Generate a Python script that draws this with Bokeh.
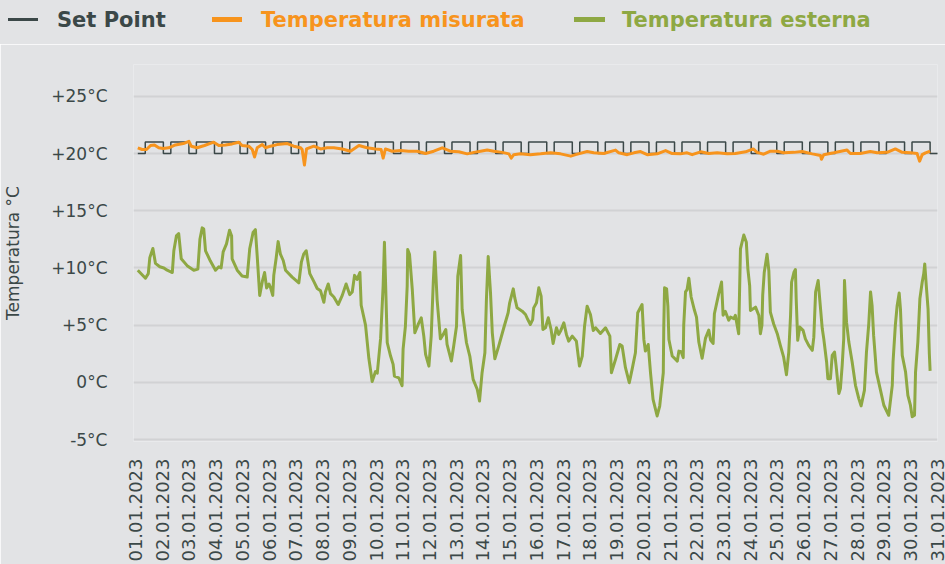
import math
from bokeh.plotting import figure
from bokeh.layouts import column
from bokeh.models import FixedTicker, Div
from bokeh.embed import file_html
from bokeh.resources import INLINE

# ---------------- data ----------------
x_tick_labels = ["01.01.2023", "02.01.2023", "03.01.2023", "04.01.2023", "05.01.2023",
                 "06.01.2023", "07.01.2023", "08.01.2023", "09.01.2023", "10.01.2023",
                 "11.01.2023", "12.01.2023", "13.01.2023", "14.01.2023", "15.01.2023",
                 "16.01.2023", "17.01.2023", "18.01.2023", "19.01.2023", "20.01.2023",
                 "21.01.2023", "22.01.2023", "23.01.2023", "24.01.2023", "25.01.2023",
                 "26.01.2023", "27.01.2023", "28.01.2023", "29.01.2023", "30.01.2023",
                 "31.01.2023"]
y_ticks = [-5, 0, 5, 10, 15, 20, 25]
y_tick_labels = ["-5°C", "0°C", "+5°C", "+10°C", "+15°C", "+20°C", "+25°C"]
series_names = ["Set Point", "Temperatura misurata", "Temperatura esterna"]

# set point schedule (°C) : night value 00-07h, day value 07-24h, for 31 days
setpoint_days = 31
setpoint_night = 20
setpoint_day = 21
setpoint_on_hour = 7
setpoint_end_day = 31.35

# measured indoor temperature (day since 01.01 00:00, °C)
measured = [
    (0.00, 20.5), (0.17, 20.35), (0.34, 20.35), (0.50, 20.7), (0.65, 20.75), (0.82, 20.5),
    (0.99, 20.43), (1.21, 20.5), (1.47, 20.75), (1.78, 20.87), (2.00, 21.07), (2.09, 20.64),
    (2.32, 20.5), (2.61, 20.7), (2.97, 20.99), (3.17, 20.7), (3.43, 20.75), (3.69, 20.84),
    (3.95, 20.99), (4.08, 20.7), (4.34, 20.64), (4.48, 20.35), (4.57, 19.7), (4.67, 20.5),
    (4.87, 20.78), (5.00, 20.5), (5.19, 20.64), (5.45, 20.78), (5.85, 20.87), (6.10, 20.64),
    (6.37, 20.5), (6.43, 20.35), (6.52, 19.0), (6.60, 20.4), (6.89, 20.64), (7.15, 20.4),
    (7.41, 20.5), (7.67, 20.5), (8.00, 20.4), (8.32, 20.2), (8.65, 20.7), (8.97, 20.5),
    (9.30, 20.4), (9.52, 20.35), (9.60, 19.6), (9.69, 20.4), (9.95, 20.2), (10.28, 20.26),
    (10.60, 20.2), (10.93, 20.2), (11.26, 20.0), (11.58, 20.2), (11.91, 20.5), (12.23, 20.2),
    (12.56, 20.15), (12.89, 19.97), (13.15, 20.1), (13.41, 20.2), (13.67, 20.3), (13.93, 20.2),
    (14.26, 20.1), (14.52, 19.97), (14.61, 19.6), (14.71, 19.9), (14.97, 19.97), (15.36, 19.9),
    (15.76, 19.97), (16.15, 20.06), (16.54, 19.97), (16.94, 19.77), (17.13, 19.9), (17.58, 20.17),
    (17.84, 20.06), (18.23, 20.0), (18.69, 20.3), (18.82, 20.06), (19.15, 19.9), (19.41, 20.06),
    (19.67, 20.17), (19.93, 19.9), (20.32, 19.97), (20.65, 20.26), (20.91, 20.0), (21.23, 19.97),
    (21.49, 20.06), (21.69, 19.9), (22.02, 20.15), (22.34, 20.0), (22.67, 20.06), (23.06, 19.97),
    (23.38, 20.0), (23.78, 20.15), (24.08, 20.4), (24.23, 20.1), (24.49, 19.94), (24.75, 20.2),
    (25.02, 20.2), (25.27, 20.06), (25.67, 20.1), (25.99, 20.17), (26.39, 19.97), (26.71, 19.83),
    (26.75, 19.5), (26.84, 19.9), (27.23, 20.06), (27.75, 20.3), (27.88, 20.0), (28.27, 20.0),
    (28.66, 20.17), (28.93, 20.06), (29.32, 20.1), (29.64, 20.4), (29.91, 20.1), (30.23, 20.06),
    (30.49, 20.0), (30.59, 19.33), (30.69, 19.9), (30.82, 20.06), (31.00, 20.2),
]

# outdoor temperature (day since 01.01 00:00, °C)
outdoor = [
    (0.00, 9.8), (0.30, 9.1), (0.41, 9.5), (0.47, 10.9), (0.59, 11.7), (0.69, 10.4), (0.86, 10.1),
    (1.02, 10.0), (1.15, 9.8), (1.35, 9.6), (1.41, 11.5), (1.51, 12.8), (1.60, 13.0), (1.70, 10.8),
    (1.93, 10.2), (2.19, 9.8), (2.35, 9.9), (2.43, 12.5), (2.52, 13.5), (2.58, 13.4), (2.65, 11.5),
    (2.84, 10.6), (3.04, 9.8), (3.17, 10.1), (3.26, 10.0), (3.34, 11.4), (3.47, 12.1), (3.59, 13.3),
    (3.67, 12.8), (3.69, 10.8), (3.89, 9.8), (4.08, 9.3), (4.28, 9.2), (4.38, 11.7), (4.51, 13.1),
    (4.60, 13.35), (4.67, 11.1), (4.77, 7.6), (4.87, 8.8), (4.96, 9.6), (5.04, 8.25), (5.13, 8.6),
    (5.19, 8.3), (5.28, 7.6), (5.32, 9.35), (5.41, 10.8), (5.49, 12.3), (5.58, 11.2), (5.69, 10.65),
    (5.78, 9.8), (6.04, 9.2), (6.30, 8.7), (6.40, 10.5), (6.49, 11.2), (6.59, 11.5), (6.73, 9.5),
    (6.89, 8.8), (7.02, 8.2), (7.15, 8.0), (7.28, 7.0), (7.34, 7.9), (7.45, 8.6), (7.54, 7.75),
    (7.67, 7.46), (7.84, 6.8), (8.00, 7.6), (8.15, 8.6), (8.29, 7.67), (8.39, 7.9), (8.48, 9.35),
    (8.58, 9.0), (8.69, 9.6), (8.74, 6.74), (8.91, 5.0), (9.04, 2.1), (9.17, 0.07), (9.30, 0.94),
    (9.37, 0.8), (9.50, 3.84), (9.60, 8.48), (9.65, 12.25), (9.76, 3.46), (9.89, 2.3), (9.99, 1.57),
    (10.04, 0.55), (10.21, 0.4), (10.34, -0.3), (10.38, 2.9), (10.47, 4.9), (10.54, 8.4),
    (10.56, 11.6), (10.63, 11.2), (10.74, 8.1), (10.84, 4.33), (10.97, 5.06), (11.09, 5.64),
    (11.19, 4.04), (11.26, 2.44), (11.39, 1.42), (11.48, 4.04), (11.56, 8.7), (11.62, 11.4),
    (11.71, 7.24), (11.84, 3.8), (11.95, 4.19), (12.05, 4.62), (12.10, 3.31), (12.27, 1.86),
    (12.36, 3.17), (12.47, 4.9), (12.52, 9.27), (12.63, 11.08), (12.69, 6.37), (12.86, 3.46),
    (12.99, 2.3), (13.12, 0.26), (13.28, -0.6), (13.37, -1.63), (13.47, 0.84), (13.58, 2.59),
    (13.64, 7.24), (13.71, 11.0), (13.80, 7.82), (13.87, 4.33), (13.97, 2.06), (14.12, 3.17),
    (14.32, 4.77), (14.49, 6.08), (14.55, 6.95), (14.69, 8.17), (14.75, 7.38), (14.84, 6.51),
    (15.04, 6.22), (15.17, 5.93), (15.26, 5.49), (15.36, 5.06), (15.45, 5.49), (15.49, 6.51),
    (15.60, 6.95), (15.69, 8.26), (15.78, 7.53), (15.85, 4.62), (15.95, 4.77), (16.06, 5.64),
    (16.17, 4.62), (16.25, 3.4), (16.38, 4.77), (16.47, 4.19), (16.54, 4.48), (16.67, 5.2),
    (16.77, 4.19), (16.86, 3.6), (17.00, 4.04), (17.16, 3.6), (17.28, 1.42), (17.39, 2.3),
    (17.48, 4.91), (17.58, 6.66), (17.71, 5.93), (17.82, 4.53), (17.91, 4.77), (18.10, 4.27),
    (18.30, 4.77), (18.47, 4.04), (18.53, 0.84), (18.69, 2.0), (18.86, 3.31), (18.95, 3.17),
    (19.08, 1.28), (19.23, -0.03), (19.34, 1.13), (19.47, 2.59), (19.56, 6.08), (19.73, 6.8),
    (19.80, 3.75), (19.86, 2.73), (19.97, 3.31), (20.06, 0.84), (20.16, -1.48), (20.32, -2.94),
    (20.42, -2.07), (20.56, 0.84), (20.58, 4.91), (20.61, 8.26), (20.69, 8.17), (20.74, 6.66),
    (20.78, 3.75), (20.91, 2.3), (21.11, 1.86), (21.17, 2.73), (21.26, 2.68), (21.34, 2.16),
    (21.36, 5.0), (21.43, 7.9), (21.49, 8.1), (21.56, 9.1), (21.65, 7.46), (21.78, 6.3),
    (21.86, 5.7), (21.95, 3.52), (22.08, 2.1), (22.21, 3.84), (22.34, 4.57), (22.41, 3.7),
    (22.51, 3.4), (22.56, 6.0), (22.73, 7.75), (22.84, 8.77), (22.90, 5.87), (22.99, 6.2),
    (23.12, 5.43), (23.19, 5.7), (23.32, 5.57), (23.38, 5.86), (23.51, 4.25), (23.58, 11.66),
    (23.71, 12.88), (23.81, 12.24), (23.87, 9.9), (23.94, 8.46), (23.97, 6.28), (24.17, 6.57),
    (24.30, 5.84), (24.36, 4.25), (24.42, 5.0), (24.45, 7.6), (24.51, 9.6), (24.62, 11.2),
    (24.69, 9.77), (24.75, 6.13), (24.88, 5.1), (25.02, 4.25), (25.14, 3.23), (25.27, 2.2),
    (25.38, 0.67), (25.47, 2.65), (25.54, 5.84), (25.58, 8.75), (25.67, 9.6), (25.73, 9.86),
    (25.76, 7.3), (25.82, 3.67), (25.90, 4.83), (26.03, 4.54), (26.12, 3.8), (26.25, 3.23),
    (26.39, 2.8), (26.45, 3.95), (26.52, 7.9), (26.62, 8.9), (26.68, 7.3), (26.78, 4.7),
    (26.84, 3.8), (26.95, 1.78), (27.00, 0.32), (27.10, 0.32), (27.17, 2.36), (27.26, 2.65),
    (27.32, 1.49), (27.43, -0.97), (27.49, -0.55), (27.56, 1.49), (27.62, 3.8), (27.65, 8.9),
    (27.73, 5.26), (27.82, 3.52), (27.95, 1.78), (28.08, -0.26), (28.21, -1.42), (28.30, -2.06),
    (28.43, -0.7), (28.51, 2.65), (28.60, 5.12), (28.67, 7.9), (28.73, 6.7), (28.79, 4.1),
    (28.90, 0.9), (29.06, -0.7), (29.19, -2.0), (29.38, -2.88), (29.52, -0.26), (29.55, 1.78),
    (29.64, 5.0), (29.71, 6.7), (29.79, 7.8), (29.84, 6.4), (29.91, 2.36), (30.04, 0.9),
    (30.13, -1.13), (30.23, -2.0), (30.30, -3.0), (30.39, -2.88), (30.43, 0.9), (30.52, 3.52),
    (30.60, 7.3), (30.69, 8.75), (30.75, 9.48), (30.79, 10.35), (30.86, 8.17), (30.92, 6.4),
    (30.95, 4.0), (30.97, 2.5), (31.00, 1.0),
]

# ---------------- style ----------------
BG = "#e2e3e5"
GRID = "#d1d2d4"
DARK = "#3b4848"
ORANGE = "#f7941d"
GREEN = "#8ea843"
FONT = "DejaVu Sans"

# the date labels are spread evenly over the axis, independent of the data samples
TICK0 = -0.09       # day position of the first label
TICK_STEP = 1.0458  # days between labels


def to_x(day):
    return (day - TICK0) / TICK_STEP


# set point step line
sp_x, sp_y = [], []
for k in range(setpoint_days):
    on = k + setpoint_on_hour / 24
    sp_x += [k, on, on, k + 1]
    sp_y += [setpoint_night, setpoint_night, setpoint_day, setpoint_day]
sp_x += [setpoint_days, setpoint_end_day]
sp_y += [setpoint_night, setpoint_night]

# ---------------- legend strip ----------------
legend_style = [  # (swatch left, swatch width, swatch top, swatch height, text left, colour)
    (8, 30, 18, 3, 57, DARK),
    (212, 30, 17, 5, 261, ORANGE),
    (574, 31, 17, 5, 622, GREEN),
]
parts = []
for name, (sl, sw, st, sh, tl, col) in zip(series_names, legend_style):
    parts.append(f'<div style="position:absolute;left:{sl}px;top:{st}px;width:{sw}px;'
                 f'height:{sh}px;background:{col};"></div>')
    parts.append(f'<div style="position:absolute;left:{tl}px;top:8px;line-height:24px;'
                 f'color:{col};white-space:nowrap;">{name}</div>')
legend_html = (f'<div style="position:relative;width:945px;height:44px;background:{BG};'
               f"font-family:'{FONT}';font-weight:bold;font-size:21px;margin:0;padding:0;\">"
               + "".join(parts) + "</div>")
legend_div = Div(text=legend_html, width=945, height=44, margin=0)

# ---------------- main chart ----------------
p = figure(width=945, height=520, output_backend="svg", toolbar_location=None,
           x_range=(-0.075, 30.005), y_range=(-5.17, 27.78),
           min_border_left=133, min_border_right=8, min_border_top=20, min_border_bottom=121)
p.background_fill_color = BG
p.border_fill_color = BG
p.outline_line_color = None
p.xgrid.visible = False
p.ygrid.grid_line_color = GRID
p.ygrid.grid_line_width = 2

p.yaxis.ticker = FixedTicker(ticks=y_ticks)
p.yaxis.major_label_overrides = {t: l for t, l in zip(y_ticks, y_tick_labels)}
p.xaxis.ticker = FixedTicker(ticks=list(range(len(x_tick_labels))))
p.xaxis.major_label_overrides = {i: l for i, l in enumerate(x_tick_labels)}
p.xaxis.major_label_orientation = math.pi / 2
for ax in (p.xaxis[0], p.yaxis[0]):
    ax.axis_line_color = None
    ax.major_tick_line_color = None
    ax.minor_tick_line_color = None
    ax.major_tick_out = 0
    ax.major_tick_in = 0
    ax.major_label_text_font = FONT
    ax.major_label_text_color = DARK
p.xaxis.major_label_text_font_size = "18px"
p.xaxis.major_label_standoff = 17
p.yaxis.major_label_text_font_size = "17px"
p.yaxis.major_label_standoff = 26
p.yaxis.axis_label = "Temperatura °C"
p.yaxis.axis_label_text_font = FONT
p.yaxis.axis_label_text_font_style = "normal"
p.yaxis.axis_label_text_font_size = "17px"
p.yaxis.axis_label_text_color = DARK
p.yaxis.axis_label_standoff = 25

p.line([to_x(d) for d in sp_x], sp_y, line_color=DARK, line_width=1.5)
p.line([to_x(d) for d, _ in outdoor], [t for _, t in outdoor], line_color=GREEN,
       line_width=3, line_join="round")
p.line([to_x(d) for d, _ in measured], [t for _, t in measured], line_color=ORANGE,
       line_width=3, line_join="round")

layout = column(legend_div, p, spacing=0)
open("out.html", "w").write(file_html(layout, INLINE))
